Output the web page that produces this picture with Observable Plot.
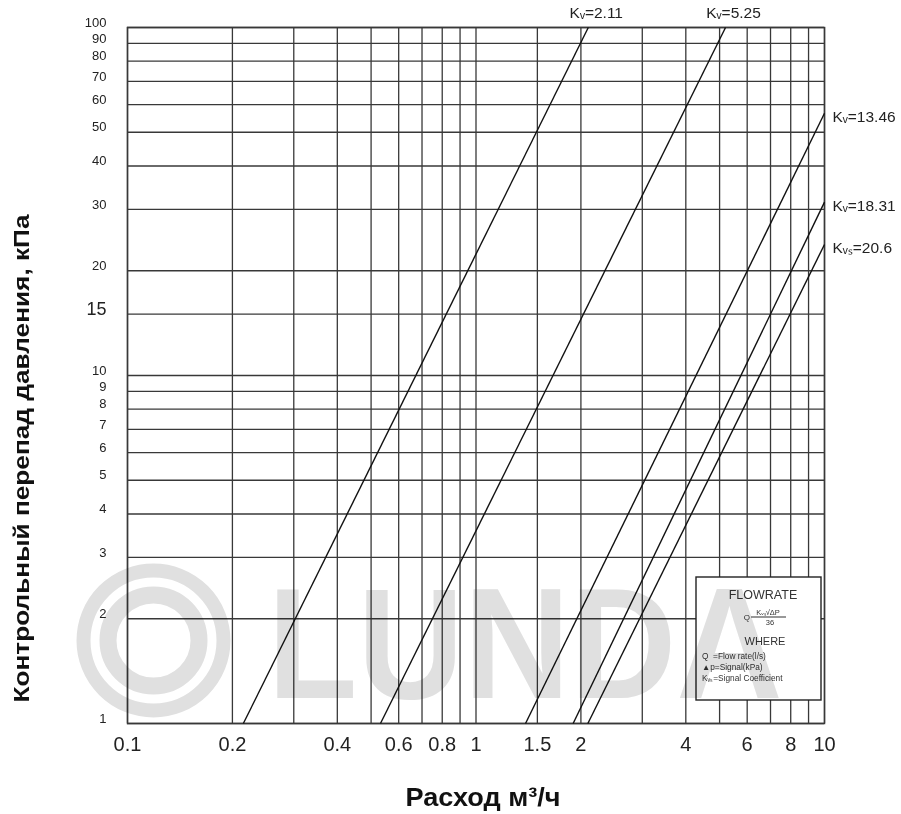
<!DOCTYPE html>
<html><head><meta charset="utf-8">
<script src="https://cdn.jsdelivr.net/npm/d3@7"></script>
<script src="https://cdn.jsdelivr.net/npm/@observablehq/plot@0.6"></script>
<style>body{margin:0;background:#fff;font-family:"Liberation Sans",Arial,sans-serif}</style>
</head><body><div id="chart"></div>
<script>
// grid and tick values
const xGrid = [0.1,0.2,0.3,0.4,0.5,0.6,0.7,0.8,0.9,1,1.5,2,3,4,5,6,7,8,9,10];
const yGrid = [1,2,3,4,5,6,7,8,9,10,15,20,30,40,50,60,70,80,90,100];
const xTickLabels = [0.1,0.2,0.4,0.6,0.8,1,1.5,2,4,6,8,10];
const yTickLabels = [1,2,3,4,5,6,7,8,9,10,15,20,30,40,50,60,70,80,90,100];
// Kv lines (flow m3/h vs pressure drop kPa), endpoints
const kvNames   = ["Kᵥ=2.11","Kᵥ=5.25","Kᵥ=13.46","Kᵥ=18.31","Kᵥₛ=20.6"];
const flowStart = [0.215,0.532,1.387,1.90,2.094];
const dpStart   = [1,1,1,1,1];
const flowEnd   = [2.10,5.2,10,10,10];
const dpEnd     = [100,100,56.7,31.5,23.8];
const labelPos  = ["top","top","right","right","right"];
// texts
const xTitle = "Расход м³/ч";
const yTitle = "Контрольный перепад давления, кПа";
const watermark = "LUNDA";
const legendTitle = "FLOWRATE";
const legendWhere = "WHERE";
const legendLines = ["Q  =Flow rate(l/s)","▲p=Signal(kPa)","Kᵥₛ=Signal Coefficient"];

const kv = kvNames.map((name,i)=>({name, x1:flowStart[i], y1:dpStart[i], x2:flowEnd[i], y2:dpEnd[i], pos:labelPos[i]}));
const font = '"Liberation Sans", Arial, sans-serif';
const gridColor = "#383838";
const wm = "#e0e0e0";

const plot = Plot.plot({
  width: 901, height: 814,
  marginLeft: 127, marginRight: 77, marginTop: 27, marginBottom: 91,
  x: {type: "log", domain: [0.1, 10], axis: null},
  y: {type: "log", domain: [1, 100], axis: null},
  style: {fontFamily: font, background: "white", color: "#222", overflow: "visible"},
  marks: [
    // watermark (first three marks; moved on top with multiply blending below)
    Plot.dot([0], {frameAnchor: "bottom-left", dx: 26, dy: -83, r: 70, stroke: wm, strokeWidth: 14, fill: "none"}),
    Plot.dot([0], {frameAnchor: "bottom-left", dx: 26, dy: -83, r: 45.5, stroke: wm, strokeWidth: 17, fill: "none"}),
    Plot.text([watermark], {text: d => d, frameAnchor: "bottom-left", textAnchor: "start", lineAnchor: "bottom", dx: 140, dy: -26, fontSize: 158, fontWeight: "bold", fill: wm}),
    // grid
    Plot.ruleX(xGrid, {x: d => d, stroke: gridColor, strokeWidth: 1.3}),
    Plot.ruleY(yGrid, {y: d => d, stroke: gridColor, strokeWidth: 1.3}),
    Plot.frame({stroke: gridColor, strokeWidth: 1.5}),
    // Kv lines
    Plot.link(kv, {x1: "x1", y1: "y1", x2: "x2", y2: "y2", stroke: "#111", strokeWidth: 1.4}),
    Plot.text(kv.filter(d => d.pos === "top"), {x: "x2", y: "y2", text: "name", dx: 8, dy: -14, fontSize: 15.5, fill: "#222"}),
    Plot.text(kv.filter(d => d.pos === "right"), {x: "x2", y: "y2", text: "name", textAnchor: "start", dx: 8, dy: 4, fontSize: 15.5, fill: "#222"}),
    // tick labels
    Plot.text(xTickLabels, {x: d => d, text: d => String(d), frameAnchor: "bottom", lineAnchor: "top", dy: 13, fontSize: 20, fill: "#222"}),
    Plot.text(yTickLabels, {y: d => d, text: d => String(d), frameAnchor: "left", textAnchor: "end", dx: -21, dy: -5, fontSize: d => d === 15 ? 18 : 13, fill: "#222"}),
    // titles
    Plot.text([xTitle], {text: d => d, frameAnchor: "bottom", textAnchor: "middle", lineAnchor: "bottom", dx: 7, dy: 82, fontSize: 25, fontWeight: "bold", fill: "#111"}),
    Plot.text([yTitle], {text: d => d, frameAnchor: "left", textAnchor: "middle", rotate: -90, lineAnchor: "bottom", dx: -99, dy: 83, fontSize: 22, fontWeight: "bold", fill: "#111"})
  ]
});

const svg = d3.select(plot);
// stretch some texts to the widths seen in the reference
const fit = (str, len) => svg.selectAll("text").filter(function(){ return this.textContent === str; })
  .attr("textLength", len).attr("lengthAdjust", "spacingAndGlyphs");
fit(watermark, 515);
fit(yTitle, 488);
fit(xTitle, 155);

// legend box (formula panel)
const g = svg.append("g").attr("font-family", font).attr("fill", "#333");
g.append("rect").attr("x", 696).attr("y", 577).attr("width", 125).attr("height", 123)
  .attr("fill", "white").attr("stroke", "#222").attr("stroke-width", 1.4);
g.append("text").attr("x", 763).attr("y", 599).attr("text-anchor", "middle").attr("font-size", 12.5).text(legendTitle);
// formula Q = Kvs·√Δp / 36
g.append("text").attr("x", 750).attr("y", 620).attr("text-anchor", "end").attr("font-size", 8).text("Q");
g.append("line").attr("x1", 751).attr("x2", 786).attr("y1", 617).attr("y2", 617).attr("stroke", "#333").attr("stroke-width", 1.2);
g.append("text").attr("x", 768).attr("y", 615).attr("text-anchor", "middle").attr("font-size", 7.5).text("Kᵥₛ√ΔP");
g.append("text").attr("x", 770).attr("y", 625).attr("text-anchor", "middle").attr("font-size", 7.5).text("36");
g.append("text").attr("x", 765).attr("y", 645).attr("text-anchor", "middle").attr("font-size", 11).text(legendWhere);
legendLines.forEach((t, i) => {
  g.append("text").attr("x", 702).attr("y", 659 + i * 11).attr("text-anchor", "start").attr("font-size", 8.3).text(t);
});

// watermark on top, multiplied so lines and text stay dark
const markGroups = Array.from(plot.children).filter(n => n.tagName.toLowerCase() === "g");
markGroups.slice(0, 3).forEach(n => { n.style.mixBlendMode = "multiply"; plot.appendChild(n); });

document.getElementById("chart").appendChild(plot);
</script></body></html>
